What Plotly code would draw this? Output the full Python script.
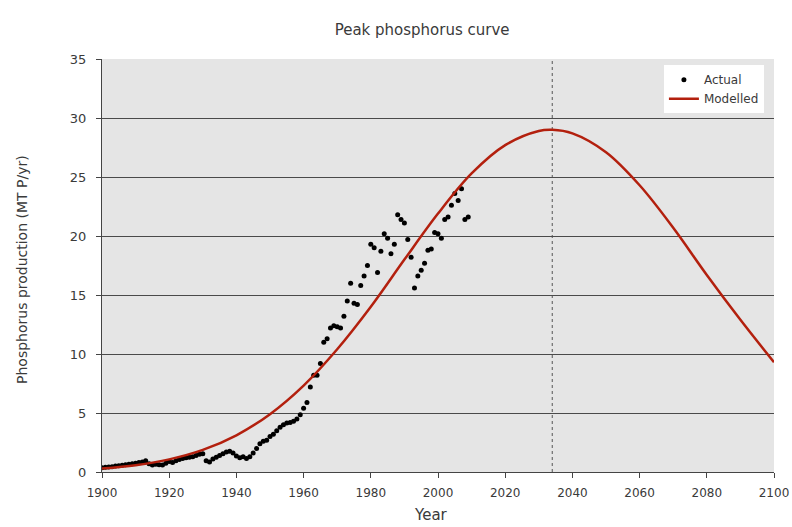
import plotly.graph_objects as go

# Actual production (MT P/yr)
actual_years = list(range(1900, 2010))
actual_values = [
    0.35, 0.40, 0.42, 0.45, 0.50, 0.52, 0.58, 0.62, 0.65, 0.70,   # 1900-1909
    0.75, 0.80, 0.85, 0.95, 0.70, 0.60, 0.65, 0.62, 0.60, 0.75,   # 1910-1919
    0.90, 0.80, 0.95, 1.05, 1.15, 1.20, 1.25, 1.30, 1.40, 1.50,   # 1920-1929
    1.55, 0.95, 0.85, 1.10, 1.25, 1.40, 1.55, 1.70, 1.75, 1.60,   # 1930-1939
    1.35, 1.20, 1.30, 1.15, 1.30, 1.60, 2.00, 2.40, 2.60, 2.70,   # 1940-1949
    3.00, 3.20, 3.50, 3.80, 4.00, 4.15, 4.20, 4.30, 4.50, 4.85,   # 1950-1959
    5.40, 5.90, 7.20, 8.20, 8.20, 9.20, 11.0, 11.3, 12.2, 12.4,   # 1960-1969
    12.3, 12.2, 13.2, 14.5, 16.0, 14.3, 14.2, 15.8, 16.6, 17.5,   # 1970-1979
    19.3, 19.0, 16.9, 18.7, 20.2, 19.8, 18.5, 19.3, 21.8, 21.4,   # 1980-1989
    21.1, 19.7, 18.2, 15.6, 16.6, 17.1, 17.7, 18.8, 18.9, 20.3,   # 1990-1999
    20.2, 19.8, 21.4, 21.6, 22.6, 23.6, 23.0, 24.0, 21.4, 21.6,   # 2000-2009
]

# Modelled curve
model_years = [1900, 1910, 1920, 1930, 1940, 1950, 1960, 1970, 1980, 1990,
               2000, 2010, 2020, 2030, 2034, 2040, 2050, 2060, 2070, 2080,
               2090, 2100]
model_values = [0.30, 0.58, 1.07, 1.87, 3.11, 4.90, 7.32, 10.4, 14.0, 18.0,
                21.9, 25.3, 27.7, 28.9, 29.0, 28.7, 27.1, 24.3, 20.7, 16.7,
                12.9, 9.3]

peak_year = 2034
x_ticks = list(range(1900, 2101, 20))
y_ticks = list(range(0, 36, 5))

FONT = "DejaVu Sans"
TXT = "#3a3a3a"

fig = go.Figure()
fig.add_trace(go.Scatter(
    x=actual_years, y=actual_values, mode="markers", name="Actual",
    marker=dict(color="black", size=5),
))
fig.add_trace(go.Scatter(
    x=model_years, y=model_values, mode="lines", name="Modelled",
    line=dict(color="#b3200e", width=2.5, shape="spline", smoothing=1.0),
))

fig.add_shape(type="line", xref="x", yref="paper", x0=peak_year, x1=peak_year,
              y0=0, y1=1, line=dict(color="#555555", width=1, dash="dot"),
              layer="below")

fig.update_layout(
    width=792, height=527,
    margin=dict(l=102, r=18, t=59, b=55, autoexpand=False),
    paper_bgcolor="white",
    plot_bgcolor="#e5e5e5",
    font=dict(family=FONT, color=TXT, size=12),
    title=dict(text="Peak phosphorus curve", x=0.533, xanchor="center",
               y=0.943, yanchor="middle", yref="container",
               font=dict(family=FONT, size=15, color=TXT)),
    showlegend=True,
    legend=dict(x=0.985, y=0.985, xanchor="right", yanchor="top",
                bgcolor="white", borderwidth=0,
                font=dict(family=FONT, size=12, color=TXT),
                itemwidth=30, tracegroupgap=2),
    xaxis=dict(range=[1900, 2100], tickvals=x_ticks, showgrid=False,
               showline=True, linecolor="#444444", linewidth=1,
               ticks="outside", ticklen=5, tickcolor="#444444",
               ticklabelstandoff=5, automargin=False,
               zeroline=False, mirror=False,
               tickfont=dict(family=FONT, size=12, color=TXT)),
    yaxis=dict(range=[0, 35], tickvals=y_ticks, showgrid=True,
               gridcolor="#4a4a4a", gridwidth=1,
               showline=True, linecolor="#444444", linewidth=1,
               ticks="outside", ticklen=5, tickcolor="#444444",
               ticklabelstandoff=7, automargin=False,
               zeroline=False,
               tickfont=dict(family=FONT, size=13, color=TXT)),
    annotations=[
        dict(text="Year", xref="paper", yref="paper", x=0.49, y=-0.104,
             xanchor="center", yanchor="middle", showarrow=False,
             font=dict(family=FONT, size=15, color=TXT)),
        dict(text="Phosphorus production (MT P/yr)", xref="paper", yref="paper",
             x=-0.12, y=0.49, xanchor="center", yanchor="middle", textangle=-90,
             showarrow=False, font=dict(family=FONT, size=14, color=TXT)),
    ],
)

fig.write_html("out.html",
               config={"displayModeBar": False},
               post_script="document.body.style.margin='0';document.body.style.overflow='hidden';")
